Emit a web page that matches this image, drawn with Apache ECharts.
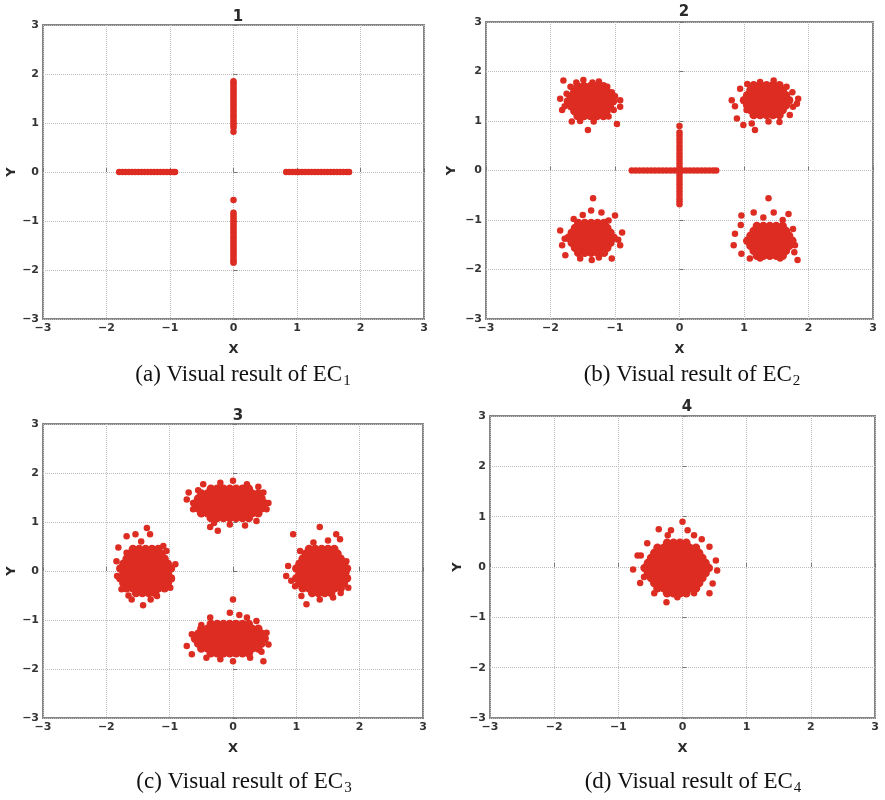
<!DOCTYPE html>
<html>
<head>
<meta charset="utf-8">
<script src="https://cdn.jsdelivr.net/npm/echarts@6/dist/echarts.min.js"></script>
<style>html,body{margin:0;padding:0;background:#fff;}#c{width:885px;height:800px;}</style>
</head>
<body>
<div id="c"></div>
<script>
// ---------- tick values ----------
const axisMin = -3, axisMax = 3, axisStep = 1;
const panelTitles = ['1', '2', '3', '4'];
const captionLead = ['(a) Visual result of EC', '(b) Visual result of EC', '(c) Visual result of EC', '(d) Visual result of EC'];
const captionSub = ['1', '2', '3', '4'];

// ---------- panel 1 ----------
const p1LeftArm = [[-1.80,0],[-1.75,0],[-1.70,0],[-1.65,0],[-1.60,0],[-1.55,0],[-1.50,0],[-1.45,0],[-1.40,0],[-1.35,0],[-1.30,0],[-1.25,0],[-1.20,0],[-1.15,0],[-1.10,0],[-1.05,0],[-1.00,0],[-0.95,0],[-0.92,0]];
const p1RightArm = [[0.83,0],[0.88,0],[0.93,0],[0.98,0],[1.03,0],[1.08,0],[1.13,0],[1.18,0],[1.23,0],[1.28,0],[1.33,0],[1.38,0],[1.43,0],[1.48,0],[1.53,0],[1.58,0],[1.63,0],[1.68,0],[1.73,0],[1.78,0],[1.82,0]];
const p1UpperArm = [[0,0.82],[0,0.91],[0,0.96],[0,1.01],[0,1.06],[0,1.11],[0,1.16],[0,1.21],[0,1.26],[0,1.31],[0,1.36],[0,1.41],[0,1.46],[0,1.51],[0,1.56],[0,1.61],[0,1.66],[0,1.71],[0,1.76],[0,1.81],[0,1.85]];
const p1LowerArm = [[0,-0.57],[0,-0.83],[0,-0.88],[0,-0.93],[0,-0.98],[0,-1.03],[0,-1.08],[0,-1.13],[0,-1.18],[0,-1.23],[0,-1.28],[0,-1.33],[0,-1.38],[0,-1.43],[0,-1.48],[0,-1.53],[0,-1.58],[0,-1.63],[0,-1.68],[0,-1.73],[0,-1.78],[0,-1.83],[0,-1.85]];

// ---------- panel 2 ----------
const p2HArm = [[-0.74,0],[-0.68,0],[-0.62,0],[-0.56,0],[-0.50,0],[-0.44,0],[-0.38,0],[-0.32,0],[-0.26,0],[-0.20,0],[-0.14,0],[-0.08,0],[-0.02,0],[0.04,0],[0.10,0],[0.16,0],[0.22,0],[0.28,0],[0.34,0],[0.40,0],[0.46,0],[0.52,0],[0.57,0]];
const p2VArm = [[0,0.90],[0,0.77],[0,0.70],[0,0.63],[0,0.56],[0,0.49],[0,0.42],[0,0.35],[0,0.28],[0,0.21],[0,0.14],[0,0.07],[0,-0.07],[0,-0.14],[0,-0.21],[0,-0.28],[0,-0.35],[0,-0.42],[0,-0.49],[0,-0.56],[0,-0.62],[0,-0.68]];
const p2TLRows = [
 [1.10,[-1.58,-1.48,-1.38,-1.28,-1.18]],
 [1.20,[-1.63,-1.53,-1.43,-1.33,-1.23,-1.13]],
 [1.30,[-1.68,-1.58,-1.48,-1.38,-1.28,-1.18,-1.08]],
 [1.40,[-1.73,-1.63,-1.53,-1.43,-1.33,-1.23,-1.13,-1.03]],
 [1.50,[-1.68,-1.58,-1.48,-1.38,-1.28,-1.18,-1.08]],
 [1.60,[-1.63,-1.53,-1.43,-1.33,-1.23,-1.13]],
 [1.70,[-1.58,-1.48,-1.38,-1.28,-1.18]]
];
const p2TLEdge = [[-1.80,1.82],[-1.49,1.83],[-1.25,1.80],[-1.85,1.45],[-0.92,1.42],[-0.97,0.94],[-1.42,0.82],[-1.67,0.99],[-1.10,1.09],[-1.02,1.22],[-1.82,1.22],[-1.69,1.69],[-1.12,1.69],[-1.33,0.99],[-1.54,1.00],[-0.92,1.29],[-1.78,1.30],[-1.75,1.55],[-1.60,1.78],[-1.35,1.78],[-1.05,1.58],[-1.00,1.50]];
const p2TRRows = [
 [1.12,[1.15,1.25,1.35,1.45,1.55]],
 [1.22,[1.10,1.20,1.30,1.40,1.50,1.60]],
 [1.32,[1.05,1.15,1.25,1.35,1.45,1.55,1.65]],
 [1.42,[1.00,1.10,1.20,1.30,1.40,1.50,1.60,1.70]],
 [1.52,[1.05,1.15,1.25,1.35,1.45,1.55,1.65]],
 [1.62,[1.10,1.20,1.30,1.40,1.50,1.60]],
 [1.72,[1.15,1.25,1.35,1.45,1.55]]
];
const p2TREdge = [[0.81,1.42],[0.94,1.65],[0.99,0.92],[1.17,0.82],[1.12,0.95],[1.84,1.45],[1.76,1.29],[1.46,1.82],[1.25,1.79],[1.66,1.69],[0.89,1.05],[1.71,1.12],[1.38,0.99],[1.04,1.22],[1.82,1.35],[0.86,1.30],[1.55,0.98],[1.75,1.58],[1.05,1.75]];
const p2BLRows = [
 [-1.06,[-1.57,-1.47,-1.37,-1.27,-1.17]],
 [-1.16,[-1.62,-1.52,-1.42,-1.32,-1.22,-1.12]],
 [-1.26,[-1.67,-1.57,-1.47,-1.37,-1.27,-1.17,-1.07]],
 [-1.36,[-1.72,-1.62,-1.52,-1.42,-1.32,-1.22,-1.12,-1.02]],
 [-1.46,[-1.67,-1.57,-1.47,-1.37,-1.27,-1.17,-1.07]],
 [-1.56,[-1.62,-1.52,-1.42,-1.32,-1.22,-1.12]],
 [-1.66,[-1.57,-1.47,-1.37,-1.27,-1.17]]
];
const p2BLEdge = [[-1.34,-0.56],[-1.37,-0.81],[-1.21,-0.85],[-1.00,-0.91],[-1.85,-1.21],[-0.89,-1.25],[-1.77,-1.71],[-1.36,-1.81],[-1.05,-1.78],[-1.64,-0.98],[-0.92,-1.51],[-1.54,-1.78],[-1.82,-1.51],[-1.10,-1.01],[-1.78,-1.38],[-0.95,-1.40],[-1.25,-1.76],[-1.50,-0.90]];
const p2BRRows = [
 [-1.12,[1.20,1.30,1.40,1.50,1.60]],
 [-1.22,[1.15,1.25,1.35,1.45,1.55,1.65]],
 [-1.32,[1.10,1.20,1.30,1.40,1.50,1.60,1.70]],
 [-1.42,[1.05,1.15,1.25,1.35,1.45,1.55,1.65,1.75]],
 [-1.52,[1.10,1.20,1.30,1.40,1.50,1.60,1.70]],
 [-1.62,[1.15,1.25,1.35,1.45,1.55,1.65]],
 [-1.72,[1.20,1.30,1.40,1.50,1.60]]
];
const p2BREdge = [[1.38,-0.56],[0.96,-0.91],[1.15,-0.85],[1.69,-0.88],[0.84,-1.51],[0.86,-1.28],[1.83,-1.81],[0.96,-1.68],[1.09,-1.78],[1.79,-1.51],[1.76,-1.18],[1.46,-0.85],[1.56,-1.78],[1.25,-1.78],[1.30,-0.95],[1.60,-1.00],[0.95,-1.10],[1.78,-1.65]];

// ---------- panel 3 ----------
const p3TopRows = [
 [1.08,[-0.35,-0.25,-0.15,-0.05,0.05,0.15,0.25]],
 [1.18,[-0.50,-0.40,-0.30,-0.20,-0.10,0.00,0.10,0.20,0.30,0.40]],
 [1.28,[-0.55,-0.45,-0.35,-0.25,-0.15,-0.05,0.05,0.15,0.25,0.35,0.45]],
 [1.38,[-0.60,-0.50,-0.40,-0.30,-0.20,-0.10,0.00,0.10,0.20,0.30,0.40,0.50]],
 [1.48,[-0.55,-0.45,-0.35,-0.25,-0.15,-0.05,0.05,0.15,0.25,0.35,0.45]],
 [1.58,[-0.50,-0.40,-0.30,-0.20,-0.10,0.00,0.10,0.20,0.30,0.40]],
 [1.68,[-0.35,-0.25,-0.15,-0.05,0.05,0.15,0.25]]
];
const p3TopEdge = [[-0.73,1.46],[-0.70,1.60],[-0.63,1.39],[-0.52,1.19],[-0.36,0.90],[-0.24,0.82],[0.00,1.84],[-0.20,1.80],[0.22,1.77],[0.48,1.60],[0.56,1.39],[0.53,1.26],[0.37,1.02],[0.19,0.93],[-0.05,0.95],[-0.47,1.77],[-0.63,1.26],[-0.30,0.98],[0.40,1.72],[-0.55,1.65]];
const p3BotRows = [
 [-1.08,[-0.35,-0.25,-0.15,-0.05,0.05,0.15,0.25]],
 [-1.18,[-0.50,-0.40,-0.30,-0.20,-0.10,0.00,0.10,0.20,0.30,0.40]],
 [-1.28,[-0.55,-0.45,-0.35,-0.25,-0.15,-0.05,0.05,0.15,0.25,0.35,0.45]],
 [-1.38,[-0.60,-0.50,-0.40,-0.30,-0.20,-0.10,0.00,0.10,0.20,0.30,0.40,0.50]],
 [-1.48,[-0.55,-0.45,-0.35,-0.25,-0.15,-0.05,0.05,0.15,0.25,0.35,0.45]],
 [-1.58,[-0.50,-0.40,-0.30,-0.20,-0.10,0.00,0.10,0.20,0.30,0.40]],
 [-1.68,[-0.35,-0.25,-0.15,-0.05,0.05,0.15,0.25]]
];
const p3BotEdge = [[0.00,-0.58],[-0.36,-0.95],[-0.05,-0.85],[0.22,-0.95],[0.37,-1.02],[-0.73,-1.53],[-0.65,-1.29],[-0.65,-1.70],[-0.42,-1.77],[0.00,-1.84],[0.48,-1.84],[0.56,-1.50],[0.53,-1.26],[-0.20,-1.80],[0.27,-1.77],[-0.50,-1.10],[0.10,-0.90],[0.45,-1.65]];
const p3LeftRows = [
 [-0.45,[-1.53,-1.43,-1.33,-1.23]],
 [-0.35,[-1.68,-1.58,-1.48,-1.38,-1.28,-1.18,-1.08]],
 [-0.25,[-1.73,-1.63,-1.53,-1.43,-1.33,-1.23,-1.13,-1.03]],
 [-0.15,[-1.78,-1.68,-1.58,-1.48,-1.38,-1.28,-1.18,-1.08,-0.98]],
 [-0.05,[-1.73,-1.63,-1.53,-1.43,-1.33,-1.23,-1.13,-1.03]],
 [0.05,[-1.78,-1.68,-1.58,-1.48,-1.38,-1.28,-1.18,-1.08,-0.98]],
 [0.15,[-1.73,-1.63,-1.53,-1.43,-1.33,-1.23,-1.13,-1.03]],
 [0.25,[-1.68,-1.58,-1.48,-1.38,-1.28,-1.18,-1.08]],
 [0.35,[-1.63,-1.53,-1.43,-1.33,-1.23,-1.13]],
 [0.45,[-1.58,-1.48,-1.38,-1.28,-1.18]]
];
const p3LeftEdge = [[-1.36,0.88],[-1.68,0.71],[-1.54,0.75],[-1.31,0.75],[-1.81,0.48],[-1.84,0.20],[-1.83,-0.10],[-1.76,-0.37],[-1.60,-0.58],[-1.42,-0.70],[-1.20,-0.51],[-1.05,0.41],[-0.91,0.14],[-0.97,-0.17],[-1.10,0.51],[-1.68,0.37],[-0.99,-0.34],[-1.45,0.60],[-1.30,-0.58],[-1.65,-0.50]];
const p3RightRows = [
 [-0.45,[1.25,1.35,1.45,1.55]],
 [-0.35,[1.10,1.20,1.30,1.40,1.50,1.60,1.70]],
 [-0.25,[1.05,1.15,1.25,1.35,1.45,1.55,1.65,1.75]],
 [-0.15,[1.00,1.10,1.20,1.30,1.40,1.50,1.60,1.70,1.80]],
 [-0.05,[1.05,1.15,1.25,1.35,1.45,1.55,1.65,1.75]],
 [0.05,[1.00,1.10,1.20,1.30,1.40,1.50,1.60,1.70,1.80]],
 [0.15,[1.05,1.15,1.25,1.35,1.45,1.55,1.65,1.75]],
 [0.25,[1.10,1.20,1.30,1.40,1.50,1.60,1.70]],
 [0.35,[1.15,1.25,1.35,1.45,1.55,1.65]],
 [0.45,[1.20,1.30,1.40,1.50,1.60]]
];
const p3RightEdge = [[1.37,0.90],[0.95,0.75],[1.69,0.65],[1.63,0.75],[0.84,-0.10],[0.87,0.10],[1.06,0.41],[0.98,-0.31],[1.16,-0.68],[1.37,-0.58],[1.58,-0.54],[1.82,-0.34],[1.79,0.20],[1.79,-0.03],[1.27,0.58],[1.08,-0.51],[1.50,0.62],[0.92,-0.20],[1.70,-0.45]];

// ---------- panel 4 ----------
const p4Rows = [
 [-0.52,[-0.24,-0.14,-0.04,0.06]],
 [-0.42,[-0.39,-0.29,-0.19,-0.09,0.01,0.11,0.21]],
 [-0.32,[-0.44,-0.34,-0.24,-0.14,-0.04,0.06,0.16,0.26]],
 [-0.22,[-0.49,-0.39,-0.29,-0.19,-0.09,0.01,0.11,0.21,0.31]],
 [-0.12,[-0.54,-0.44,-0.34,-0.24,-0.14,-0.04,0.06,0.16,0.26,0.36]],
 [-0.02,[-0.59,-0.49,-0.39,-0.29,-0.19,-0.09,0.01,0.11,0.21,0.31,0.41]],
 [0.08,[-0.54,-0.44,-0.34,-0.24,-0.14,-0.04,0.06,0.16,0.26,0.36]],
 [0.18,[-0.49,-0.39,-0.29,-0.19,-0.09,0.01,0.11,0.21,0.31]],
 [0.28,[-0.44,-0.34,-0.24,-0.14,-0.04,0.06,0.16,0.26]],
 [0.38,[-0.39,-0.29,-0.19,-0.09,0.01,0.11,0.21]],
 [0.48,[-0.24,-0.14,-0.04,0.06]]
];
const p4Edge = [[0.00,0.90],[-0.37,0.75],[-0.18,0.73],[0.08,0.73],[0.18,0.63],[-0.70,0.23],[-0.65,0.23],[-0.77,-0.05],[-0.66,-0.32],[-0.44,-0.52],[-0.25,-0.70],[-0.08,-0.60],[0.18,-0.52],[0.42,-0.52],[0.47,-0.33],[0.54,-0.07],[0.52,0.13],[0.42,0.40],[-0.23,0.63],[-0.55,0.47],[0.30,0.55],[-0.60,-0.20]];

// ---------- build ----------
function rows(r) { const out = []; r.forEach(([y, xs]) => xs.forEach(x => out.push([x, y]))); return out; }
const panelCore = [
  [],
  [].concat(rows(p2TLRows), rows(p2TRRows), rows(p2BLRows), rows(p2BRRows)),
  [].concat(rows(p3TopRows), rows(p3BotRows), rows(p3LeftRows), rows(p3RightRows)),
  rows(p4Rows)
];
const panelSparse = [
  [].concat(p1LeftArm, p1RightArm, p1UpperArm, p1LowerArm),
  [].concat(p2HArm, p2VArm, p2TLEdge, p2TREdge, p2BLEdge, p2BREdge),
  [].concat(p3TopEdge, p3BotEdge, p3LeftEdge, p3RightEdge),
  p4Edge
];

const RED = '#dd2c22';
const grids = [
  {left: 43, top: 25, width: 381, height: 294},
  {left: 486, top: 22, width: 387, height: 297},
  {left: 43, top: 424, width: 380, height: 294},
  {left: 490, top: 416, width: 385, height: 302}
];
const yNameGap = [25, 28, 25, 26];
const titlePos = [[233, 5], [679, 0], [233, 404], [682, 395]];
const captionPos = [[243, 362], [692, 362], [244, 769], [693, 769]];

const fmt = v => String(v).replace('-', '\u2212');
const tickFont = {fontFamily: 'DejaVu Sans', fontSize: 11, color: '#333', fontWeight: 'bold'};

function axisCommon(i, isX) {
  return {
    type: 'value', gridIndex: i, min: axisMin, max: axisMax, interval: axisStep,
    name: isX ? 'X' : 'Y', nameLocation: 'middle', nameMoveOverlap: false,
    nameGap: isX ? 24 : yNameGap[i], nameRotate: isX ? 0 : 90,
    nameTextStyle: {fontFamily: 'DejaVu Sans', fontSize: 13, fontWeight: 'bold', color: '#2a2a2a'},
    axisLine: {show: false},
    axisTick: {show: true, inside: true, length: 4, lineStyle: {color: '#777'}},
    axisLabel: Object.assign({margin: 4, formatter: fmt}, tickFont),
    splitLine: {show: true, lineStyle: {type: 'dotted', color: '#bdbdbd', width: 1}}
  };
}

const series = [];
for (let i = 0; i < 4; i++) {
  series.push({
    type: 'scatter', xAxisIndex: i, yAxisIndex: i, data: panelCore[i],
    symbol: 'circle', symbolSize: 8.5, itemStyle: {color: RED, opacity: 1}, silent: true
  });
  series.push({
    type: 'scatter', xAxisIndex: i, yAxisIndex: i, data: panelSparse[i],
    symbol: 'circle', symbolSize: 6.5, itemStyle: {color: RED, opacity: 1}, silent: true
  });
}

const option = {
  backgroundColor: '#fff',
  animation: false,
  title: [].concat(
    panelTitles.map((t, i) => ({
      text: t, left: titlePos[i][0], top: titlePos[i][1], textAlign: 'center',
      textStyle: {fontFamily: 'DejaVu Sans', fontSize: 15, fontWeight: 'bold', color: '#2a2a2a'}
    })),
    captionLead.map((t, i) => ({
      text: '{m|' + t + '}{s|' + captionSub[i] + '}',
      left: captionPos[i][0], top: captionPos[i][1], textAlign: 'center', padding: 0,
      textStyle: {fontWeight: 'normal', rich: {
        m: {fontFamily: 'Liberation Serif', fontSize: 23, fontWeight: 'normal', color: '#111', lineHeight: 26},
        s: {fontFamily: 'Liberation Serif', fontSize: 15, fontWeight: 'normal', color: '#111', lineHeight: 10, padding: [13, 0, 0, 1]}
      }}
    }))
  ),
  grid: grids.map(g => Object.assign({show: true, borderColor: '#858585', borderWidth: 2, backgroundColor: '#fff'}, g)),
  xAxis: grids.map((g, i) => axisCommon(i, true)),
  yAxis: grids.map((g, i) => axisCommon(i, false)),
  series: series
};

const chart = echarts.init(document.getElementById('c'), null, {renderer: 'canvas'});
chart.setOption(option);
</script>
</body>
</html>
